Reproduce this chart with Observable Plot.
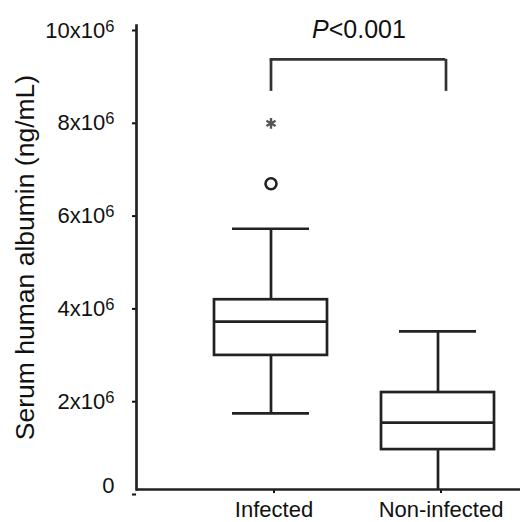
<!DOCTYPE html>
<html><head><meta charset="utf-8">
<script src="https://cdn.jsdelivr.net/npm/d3@7"></script>
<script src="https://cdn.jsdelivr.net/npm/@observablehq/plot@0.6"></script>
<style>
body{margin:0;background:#fff;}
#chart svg{overflow:visible;}
</style>
</head><body><div id="chart"></div>
<script>
// ---- data ----
const groups = ["Infected", "Non-infected"];
const whiskerLow  = [1.64e6, 0.00e6];
const q1          = [2.89e6, 0.86e6];
const median      = [3.62e6, 1.44e6];
const q3          = [4.09e6, 2.09e6];
const whiskerHigh = [5.62e6, 3.41e6];
const outlierGroups = ["Infected"];
const outlierValues = [6.59e6];
const extremeGroups = ["Infected"];
const extremeValues = [7.89e6];
const yTicks = [0, 2e6, 4e6, 6e6, 8e6, 10e6];
const bracketGroups = ["Infected", "Non-infected"];
const bracketLow = 8.58e6;
const bracketHigh = 9.27e6;
const pLabel = "P<0.001";
const pLabelY = 9.74e6;
const yLabel = "Serum human albumin (ng/mL)";

// ---- tables built from the arrays ----
const boxes = groups.map((g, i) => ({group: g, lo: whiskerLow[i], q1: q1[i], med: median[i], q3: q3[i], hi: whiskerHigh[i]}));
const outliers = outlierGroups.map((g, i) => ({group: g, value: outlierValues[i]}));
const extremes = extremeGroups.map((g, i) => ({group: g, value: extremeValues[i]}));
const bracketSpan = [{from: bracketGroups[0], to: bracketGroups[1], value: bracketHigh}];

const ink = "#222";
const sw = 2.7;

const chart = Plot.plot({
  width: 520,
  height: 522,
  marginLeft: 136,
  marginRight: 0,
  marginTop: 25,
  marginBottom: 33,
  style: {fontFamily: "'Liberation Sans', Arial, sans-serif", color: "#111", background: "#fff"},
  x: {domain: groups, paddingInner: 0.3214, paddingOuter: 0.3036, align: 0.755},
  y: {domain: [0, 10e6]},
  marks: [
    Plot.axisY({
      ticks: yTicks,
      tickFormat: d => d === 0 ? "0" : `${d / 1e6}x10⁶`,
      tickSize: 4, tickPadding: 18, fontSize: 22, dy: 5, strokeWidth: 2,
      label: yLabel, labelAnchor: "center", labelOffset: 121, labelArrow: "none"
    }),
    Plot.axisX({tickSize: 4, tickPadding: 8, fontSize: 22, dx: 3, label: null, strokeWidth: 2}),
    Plot.frame({anchor: "left", stroke: ink, strokeWidth: sw}),
    Plot.ruleY([0], {stroke: ink, strokeWidth: sw}),
    // whiskers
    Plot.ruleX(boxes, {x: "group", y1: "q3", y2: "hi", stroke: ink, strokeWidth: sw}),
    Plot.ruleX(boxes, {x: "group", y1: "lo", y2: "q1", stroke: ink, strokeWidth: sw}),
    Plot.tickY(boxes, {x: "group", y: "hi", stroke: ink, strokeWidth: sw, insetLeft: 18, insetRight: 18}),
    Plot.tickY(boxes.filter(d => d.lo > 0), {x: "group", y: "lo", stroke: ink, strokeWidth: sw, insetLeft: 18, insetRight: 18}),
    // boxes
    Plot.barY(boxes, {x: "group", y1: "q1", y2: "q3", fill: "white", stroke: ink, strokeWidth: sw}),
    Plot.tickY(boxes, {x: "group", y: "med", stroke: ink, strokeWidth: sw}),
    // outliers
    Plot.dot(outliers, {x: "group", y: "value", r: 5.5, fill: "white", stroke: ink, strokeWidth: 2.6}),
    Plot.dot(extremes, {x: "group", y: "value", symbol: "asterisk", r: 5, stroke: "#555", strokeWidth: 2.4}),
    // significance bracket
    Plot.ruleX([bracketGroups[0]], {x: d => d, y1: bracketLow, y2: bracketHigh, stroke: "#333", strokeWidth: sw}),
    Plot.ruleX([bracketGroups[1]], {x: d => d, y1: bracketLow, y2: bracketHigh, dx: 8, stroke: "#333", strokeWidth: sw}),
    Plot.ruleY(bracketSpan, {x1: "from", x2: "to", y: "value", stroke: "#333", strokeWidth: sw, insetLeft: 55.7, insetRight: 48.7}),
    Plot.text([pLabel], {x: () => bracketGroups[0], y: () => pLabelY, text: d => d, dx: 88, lineAnchor: "bottom", fontSize: 25, fill: "#111"})
  ]
});

document.getElementById("chart").append(chart);

const svg = d3.select(chart.tagName === "svg" ? chart : chart.querySelector("svg"));
// superscript exponents on y tick labels
svg.selectAll('[aria-label="y-axis tick label"] text').each(function() {
  const t = this.textContent;
  if (t === "0") {
    d3.select(this).attr("transform", (this.getAttribute("transform") || "") + " translate(0,-9)");
  } else if (t.includes("⁶")) {
    const base = t.replace("⁶", "");
    const sel = d3.select(this);
    sel.text(base);
    sel.append("tspan").attr("dy", "-0.36em").attr("font-size", "0.75em").text("6");
  }
});
svg.selectAll('[aria-label="y-axis label"] text').attr("font-size", 26.5);
// italic P
svg.selectAll('[aria-label="text"] text').each(function() {
  const t = this.textContent;
  if (t.startsWith("P")) {
    const sel = d3.select(this);
    sel.text("");
    sel.append("tspan").attr("font-style", "italic").text("P");
    sel.append("tspan").text(t.slice(1));
  }
});
</script>
</body></html>
